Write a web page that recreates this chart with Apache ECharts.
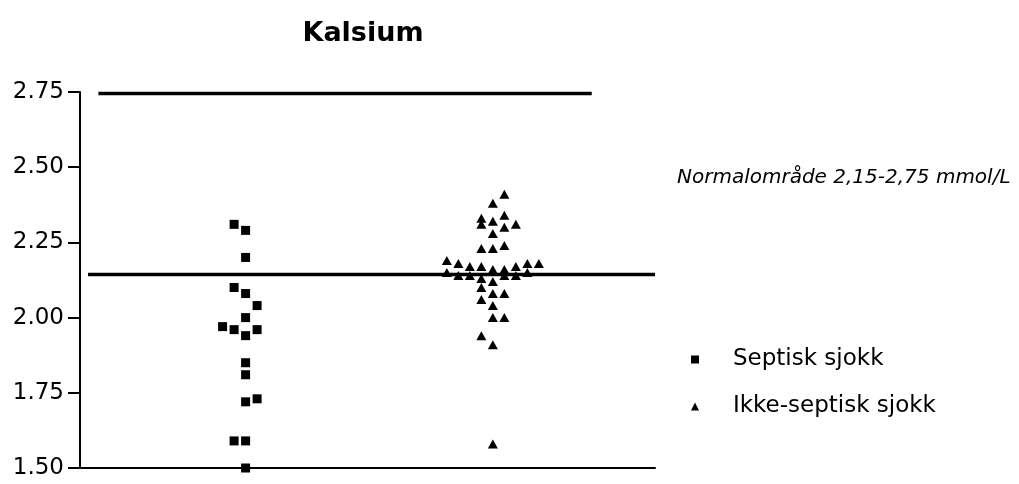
<!DOCTYPE html>
<html>
<head>
<meta charset="utf-8">
<script src="https://cdn.jsdelivr.net/npm/echarts@6/dist/echarts.min.js"></script>
<style>
  html, body { margin: 0; padding: 0; background: #fff; }
  #chart { width: 1019px; height: 484px; }
</style>
</head>
<body>
<div id="chart"></div>
<script>
// Serum calcium (mmol/L) per patient, with the column slot each point sits in
const septiskSlots  = [-1, 0, 0, -1, 0, 1, 0, -2, -1, 0, 1, 0, 0, 1, 0, -1, 0, 0];
const septiskValues = [2.31, 2.29, 2.20, 2.10, 2.08, 2.04, 2.00, 1.97, 1.96, 1.94, 1.96, 1.85, 1.81, 1.73, 1.72, 1.59, 1.59, 1.50];

const ikkeSlots  = [1, 0, -1, -1, 0, 1, 2, 0, 1, -1, 0, 1,
                    -4, -3, -2, -1, 0, 1, 2, 3, 4,
                    -4, -3, -2, -1, 0, 1, 2, 3,
                    -1, 0, 1, -1, 0, 0, 1, -1, 0, 0];
const ikkeValues = [2.41, 2.38, 2.33, 2.31, 2.32, 2.34, 2.31, 2.28, 2.30, 2.23, 2.23, 2.24,
                    2.19, 2.18, 2.17, 2.17, 2.16, 2.16, 2.17, 2.18, 2.18,
                    2.15, 2.14, 2.14, 2.13, 2.12, 2.14, 2.14, 2.15,
                    2.10, 2.08, 2.08, 2.06, 2.04, 2.00, 2.00, 1.94, 1.91, 1.58];

// Normal range reference lines: [start, end] along the x axis and level
const upperRange = { x: [1.6, 44.5], y: 2.745 };
const lowerRange = { x: [0.7, 50], y: 2.143 };

const yTicks = [1.50, 1.75, 2.00, 2.25, 2.50, 2.75];
const groupCenters = { septisk: 14.4, ikke: 35.9 };

const toPoints = (center, slots, values) => values.map((v, i) => [center + slots[i], v]);

const FONT = '"DejaVu Sans", "Liberation Sans", sans-serif';
const chart = echarts.init(document.getElementById('chart'));

chart.setOption({
  animation: false,
  backgroundColor: '#ffffff',
  title: [
    {
      text: 'Kalsium',
      left: 358, top: 15, textAlign: 'center',
      textStyle: { fontFamily: FONT, fontSize: 27, fontWeight: 'bold', color: '#000' }
    },
    {
      text: 'Normalområde 2,15-2,75 mmol/L',
      left: 672, top: 163,
      textStyle: { fontFamily: FONT, fontSize: 20, fontStyle: 'italic', fontWeight: 'normal', color: '#000' }
    }
  ],
  legend: {
    orient: 'vertical',
    left: 686, top: 343,
    itemWidth: 8, itemHeight: 8,
    itemGap: 24,
    data: [
      { name: 'Septisk sjokk', icon: 'rect' },
      { name: 'Ikke-septisk sjokk', icon: 'triangle' }
    ],
    textStyle: { fontFamily: FONT, fontSize: 23, color: '#000', padding: [0, 0, 0, 29] }
  },
  grid: { left: 80, right: 364, top: 92, bottom: 16, containLabel: false },
  xAxis: {
    type: 'value', min: 0, max: 50,
    axisLine: { show: true, onZero: false, lineStyle: { color: '#000', width: 2 } },
    axisTick: { show: false }, axisLabel: { show: false }, splitLine: { show: false }
  },
  yAxis: {
    type: 'value', min: yTicks[0], max: yTicks[yTicks.length - 1], interval: 0.25,
    axisLine: { show: true, lineStyle: { color: '#000', width: 2 } },
    axisTick: { show: true, length: 12, lineStyle: { color: '#000', width: 2 } },
    axisLabel: {
      fontFamily: FONT, fontSize: 23, color: '#000', margin: 16,
      formatter: v => v.toFixed(2)
    },
    splitLine: { show: false }
  },
  series: [
    {
      name: 'Normal øvre', type: 'line', silent: true, symbol: 'none',
      data: upperRange.x.map(x => [x, upperRange.y]),
      lineStyle: { color: '#000', width: 3.5 }, z: 1
    },
    {
      name: 'Normal nedre', type: 'line', silent: true, symbol: 'none',
      data: lowerRange.x.map(x => [x, lowerRange.y]),
      lineStyle: { color: '#000', width: 3.5 }, z: 1
    },
    {
      name: 'Septisk sjokk', type: 'scatter', symbol: 'rect', symbolSize: 9,
      itemStyle: { color: '#000', opacity: 1 },
      data: toPoints(groupCenters.septisk, septiskSlots, septiskValues), z: 3
    },
    {
      name: 'Ikke-septisk sjokk', type: 'scatter', symbol: 'triangle', symbolSize: [10, 9],
      itemStyle: { color: '#000', opacity: 1 },
      data: toPoints(groupCenters.ikke, ikkeSlots, ikkeValues), z: 3
    }
  ]
});
</script>
</body>
</html>
